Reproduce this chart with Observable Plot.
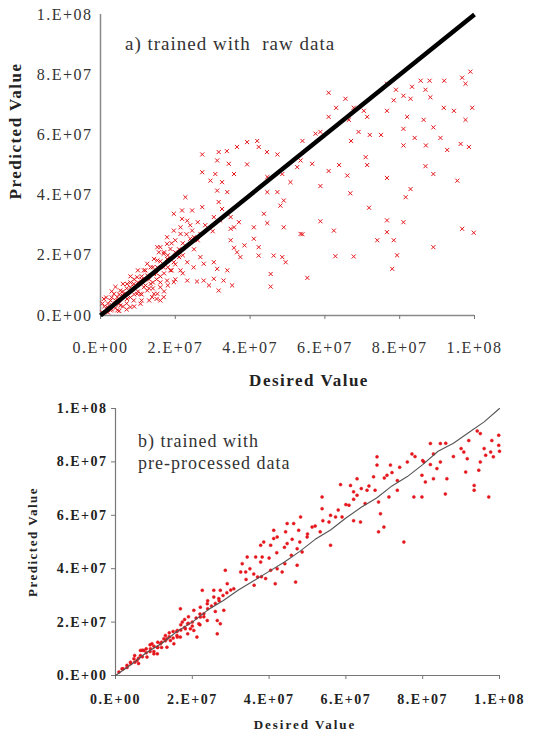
<!DOCTYPE html>
<html>
<head>
<meta charset="utf-8">
<script src="https://cdn.jsdelivr.net/npm/d3@7"></script>
<script src="https://cdn.jsdelivr.net/npm/@observablehq/plot@0.6"></script>
<style>
  body { margin: 0; background: #fff; }
  #wrap { position: relative; width: 542px; height: 736px; background: #fff; overflow: hidden; }
  .panel { position: absolute; left: 0; }
  .panel svg text { letter-spacing: 1.5px; font-family: "Liberation Serif", "Times New Roman", Tinos, serif; }
  .lbl { position: absolute; font-family: "Liberation Serif", "Times New Roman", Tinos, serif; color: #222; white-space: nowrap; }
  .rot { transform: translate(-50%, -50%) rotate(-90deg); }
  .hc { transform: translate(-50%, -50%); }
</style>
</head>
<body>
<div id="wrap">
  <div id="pa" class="panel" style="top:0"></div>
  <div id="pb" class="panel" style="top:390px"></div>
  <div class="lbl" style="left:125px;top:33px;font-size:19px;letter-spacing:1px;color:#333">a) trained with&nbsp; raw data</div>
  <div class="lbl hc" style="left:309px;top:381px;font-size:17px;font-weight:bold;letter-spacing:1.5px">Desired Value</div>
  <div class="lbl rot" style="left:16px;top:131px;font-size:17px;font-weight:bold;letter-spacing:1.5px">Predicted Value</div>
  <div class="lbl" style="left:138px;top:430px;font-size:18px;letter-spacing:1px;color:#333;line-height:22px">b) trained with<br>pre-processed data</div>
  <div class="lbl hc" style="left:305px;top:725px;font-size:13px;font-weight:bold;letter-spacing:2px">Desired Value</div>
  <div class="lbl rot" style="left:33px;top:542px;font-size:13px;font-weight:bold;letter-spacing:1.5px">Predicted Value</div>
</div>
<script>
// values in units of 1e6
const tickValues = [0, 20, 40, 60, 80, 100];
const tickLabels = ["0.E+00", "2.E+07", "4.E+07", "6.E+07", "8.E+07", "1.E+08"];

// Panel a: trained with raw data (desired, predicted)
const rawDesired = [
  61,65.5,67.7,63,70.4,71.3,69,72,75,67,76.6,79,81,83.3,85.6,88,91.9,96.7,98.9,97.6,86.9,88.2,82.9,78.4,76.6,82,86.4,91.8,94.5,99.4,97.6,89,81,84,90.9,87,81,92.7,96.3,98.5,54,57.5,58.8,61,66.4,
  70.9,71.3,66,61,63.8,56.6,53.5,58.8,66.8,76.6,86.9,89,95.4,82.9,81.6,71.8,58.8,62.4,76.6,76.6,81,74,78.4,89,96.7,99.8,79.3,62.8,67.7,78,54,55.3,
  27.2,31.6,33.8,36.5,39.2,41.9,42.3,44.5,47.3,31.2,34.3,39.2,27.2,30.7,35.7,29.4,32.5,31.2,33.9,31.6,32.5,27.2,24.5,22.7,21.8,21.4,23.2,24.5,26.7,30.3,32,34.8,35.7,37,41,44.6,43.7,48.1,44.6,47.3,49,44.6,48.6,49,53.5,50.8,52.6,41,42.3,38.5,35.7,34.8,37.4,42.3,46.3,48.6,49.5,45.5,45.5,35.2,32.9,30.3,27.6,25.8,23.2,19.6,17.8,21.4,24.9,27.6,30.3,26.7,31.2,33.9,31.6,29,18.7,17.8,21,23.2,34.8,36.5,
  19.6,21.8,17.8,16,16.9,15.2,19.6,21.4,18.7,15.6,13.4,11.6,9.8,12.5,14.3,8.9,8,6.2,4.5,2.7,1.8,0.9,3.6,5.3,7.1,10.7,12.5,14.3,16,16.9,8.9,5.3,10.7,2.7,0.4,4,13.4,11.6,15.2,16.9,19.6,12.5,14.3,15.2,17.8,7.1,9.8,15.2,13.8,16,4.5,8,
  22,24,26,28,30,25,20,11,9,6,3,
  1,2,2,3,3,4,4,5,5,6,6,7,7,8,8,9,9,10,10,11,11,12,12,13,13,14,14,15,15,16,16,17,17,18,18,19,19,20,20,21,22,23,24,25,26,5,7,9,11,13,15,17,18,20,22,14,16,0.5,1.5,3,4,6,8,10
];
const rawPredicted = [
  74,72,69,69,68,66,61,60,60,58,77,75,73,76,78,78,78,79,81,77,75,72.5,72,71.5,68,66,65,69,68,69,65,62.5,62,59,59,56.5,56.5,55,57,56,58,60.4,61,66,65,
  52.6,50,46.5,48,50,50.4,51.5,43,40.6,45.7,49.6,47,44.8,42,39.3,35.8,31.3,28.2,31.6,27.7,31,25,25,22.7,28.8,27.5,20,19.7,19.6,15.5,27,12.5,
  53.5,54.3,54.6,56,57.6,58,56,54.3,53.5,51.5,50.4,50.2,47.6,47,47,44.8,44.3,41.5,41,37.7,35.4,36,34.9,39.3,34.9,29.3,31.5,28.2,27.1,32.7,31.6,32.7,29.3,31,29.3,30.7,33.8,36.5,41,41,38.2,46,47,29.3,27.1,44.3,49.3,25.5,22.7,23.3,22.5,25,19.4,19.9,19.9,19.4,17.7,13.8,9.6,10,11.6,12.2,11.6,11.3,11.6,11.1,11.6,15,16,17.2,17.7,19.4,15.5,15,8.3,10,15,18.8,19.4,17.7,28.8,21,
  33.8,32.1,23.8,22.7,20.5,18.3,28.2,27.1,22.1,21,16,15,12.7,13.3,13.8,10.5,9.4,7.2,6.1,5,2.8,5.5,7.2,8.3,5.5,7.2,8.3,7.2,9.4,6.1,5,3.3,3.9,1.7,1.1,3.9,10.5,9.4,16,16,17.7,17.2,18.8,22.7,26,10.5,7.2,7.2,6.1,5,1.7,2.8,
  24,25.5,25,30,28,22,21,12,9.5,6.5,3.5,
  3,1,4,2,6,2.5,5,4,7,3,8,4,9,6,11,7,12,8,11,7,13,10,15,9,12,11,16,12,14,13,18,14,21,16,20,15,24,17,25,22,20,27,30,26,31,1.5,2,3,5,5,5.5,8,10,12,14,9,11,4,6,8,9.5,10.5,13,15
];
// ideal line (black) in panel a
const idealDesired = [0, 100];
const idealPredicted = [0, 100];

// Panel b: trained with pre-processed data (desired, predicted)
const preDesired = [
  94.2,95,99.8,99.8,97.7,98.4,96.4,90.7,91.6,95,94.6,91.2,93.4,93.4,97.2,85.9,86.3,83.7,82.8,84.6,82.8,84.6,82,80.3,79.8,80.7,79.8,77.7,77.2,73.4,73.4,71.2,70.7,71.6,68.1,68.1,67.2,67.6,68.5,69,69.9,68.5,65.5,65,62.9,62.9,62,61.2,58.6,60.8,59,57.3,75.1,62,63.8,
  53.8,53.8,55.6,56,53.3,51.2,49.9,48.2,46.4,47.7,44.7,44.3,44.7,47.3,48.6,45.8,44.1,41.2,42.1,40.4,41.2,38.6,37.8,38.2,36.5,34.3,33,33.9,32.6,37.8,40.4,41.6,43.4,39.1,37,36.1,42.1,46.9,47.3,
  30.8,29.1,28.6,27.3,25.6,26.9,28.2,26.5,27.3,26.5,25.6,22.6,23.9,22.1,20.4,16.9,17.4,18.8,20.4,21.2,18.8,16.1,14.3,12.6,11.7,10.9,9.1,7.4,6.5,4.8,3.9,3,1.7,0.9,8.2,10,13.4,15.2,16.9,19.5,21.7,23.9,6.5,5.6,9.5,10.9,13.4,16.1,18.2,22.1,23,
  2,3,4,5,6,7,8,9,10,11,12,13,14,15,16,17,18,19,20,21,22,23,24,25,26,27,28,29,30,8,10,12,14,16,18,20,22,24,26,7,9,11,13,15,17,19,5,6,
  34,35,36,38,40,42,44,46,48,50,52,54,56,58,60,62,64,66,70,72,74,76,78,80,82,86,88,90,92,96,98,100
];
const prePredicted = [
  91.6,90.6,90,86.2,83.7,81.9,82.5,83.7,81.2,80,76.9,76.2,71.2,69.4,66.9,68,73.7,77.5,73.7,80,83,86.9,86.9,80,75,72.5,66.9,66.9,83,73,69.4,66.9,75,78.8,81.9,78.8,74.4,69.4,65,60.6,55.6,53.8,69.4,64.4,67.5,73.7,68.8,71.2,71.5,63.8,59.4,59.4,50,58,57.5,
  66.9,62.5,57.5,48.8,53.8,55.6,51.9,59.4,56.9,54.4,56.9,53.8,49.4,47.5,46.3,45,41.9,54.4,51.9,48.8,51.3,50,48.8,44.4,44.4,44.4,41.9,38.8,38.8,42.5,39.4,34.4,38.8,36.3,36.9,33.8,40,35,41.3,
  32.5,34.4,39.4,31.9,29.4,28.8,24.4,20.6,19.4,15.6,31.9,31.9,26.9,25.6,24.4,25,20,19.4,16.9,14.4,15.6,14.4,13.1,13.8,11.9,10.6,10,9.4,7.5,6.3,5,3.8,2.5,1.3,6.9,8.1,10.6,11.9,14.4,17.5,19.4,20.6,9.4,5.6,11.9,8.1,13.8,16.9,17.5,21.9,23.1,
  2.5,3,4.5,5,6.5,7,8.5,9,11,10.5,12.5,13,14.5,14,16.5,17,18,19.5,20,21.5,23,22,25,26,27,28,30,31,32,10,9,10.5,16,15,21,18.5,19,28,24,9.5,11.5,12.5,15,16.5,19,22,7.5,4.5,
  36,40,38,37,44,46,48,51,50,53,56,58,60,62,64,66,70,71,74,76,78,80,82,80.5,79,87,82,85,88,85,88,84
];
// model curve (gray) in panel b
const curveDesired = [0,4,8,12,16,20,24,28,32,36,40,44,48,52,56,60,64,68,72,76,80,84,88,92,96,100];
const curvePredicted = [0,4,8.5,12,16.5,20,24.5,28,32,35.5,39,42.5,46.5,51,54.5,59,63,66.5,71,74.5,79,84,87,91,95,100];

const red = "#e4161c";
const serif = "'Liberation Serif', 'Times New Roman', Tinos, serif";
const rawPts = rawDesired.map((d, i) => ({x: d, y: rawPredicted[i]}));
const idealPts = idealDesired.map((d, i) => ({x: d, y: idealPredicted[i]}));
const prePts = preDesired.map((d, i) => ({x: d, y: prePredicted[i]}));
const curvePts = curveDesired.map((d, i) => ({x: d, y: curvePredicted[i]}));
const fmt = (d) => tickLabels[tickValues.indexOf(d)];

const chartA = Plot.plot({
  width: 542, height: 390,
  marginTop: 14, marginRight: 68, marginBottom: 75, marginLeft: 100,
  x: {domain: [0, 100]}, y: {domain: [0, 100]},
  style: {fontFamily: serif, background: "transparent", color: "#333"},
  marks: [
    Plot.ruleY([0], {stroke: "#8a8a8a", strokeWidth: 1.5}),
    Plot.ruleX([0], {stroke: "#8a8a8a", strokeWidth: 1.5}),
    Plot.axisX(tickValues, {tickFormat: fmt, tickSize: 4, tickPadding: 22, fontSize: 16, label: null, stroke: "#777"}),
    Plot.axisY(tickValues, {tickFormat: fmt, tickSize: 0, tickPadding: 8, fontSize: 16, label: null}),
    Plot.dot(rawPts, {x: "x", y: "y", symbol: "times", r: 2, stroke: red, strokeWidth: 1}),
    Plot.line(idealPts, {x: "x", y: "y", stroke: "#000", strokeWidth: 4.5, strokeLinecap: "butt"})
  ]
});
document.getElementById("pa").append(chartA);

const chartB = Plot.plot({
  width: 542, height: 346,
  marginTop: 18, marginRight: 43, marginBottom: 61, marginLeft: 115,
  x: {domain: [0, 100]}, y: {domain: [0, 100]},
  style: {fontFamily: serif, background: "transparent", color: "#222"},
  marks: [
    Plot.ruleY([0], {stroke: "#777", strokeWidth: 1.2}),
    Plot.ruleX([0], {stroke: "#777", strokeWidth: 1.2}),
    Plot.axisX(tickValues, {tickFormat: fmt, tickSize: 4, tickPadding: 15, fontSize: 14, fontWeight: "bold", label: null, stroke: "#777"}),
    Plot.axisY(tickValues, {tickFormat: fmt, tickSize: 4, tickPadding: 4, fontSize: 14, fontWeight: "bold", label: null, stroke: "#777"}),
    Plot.dot(prePts, {x: "x", y: "y", r: 1.5, fill: red, stroke: red, strokeWidth: 0.5}),
    Plot.line(curvePts, {x: "x", y: "y", stroke: "#555", strokeWidth: 1.1})
  ]
});
document.getElementById("pb").append(chartB);
</script>
</body>
</html>
